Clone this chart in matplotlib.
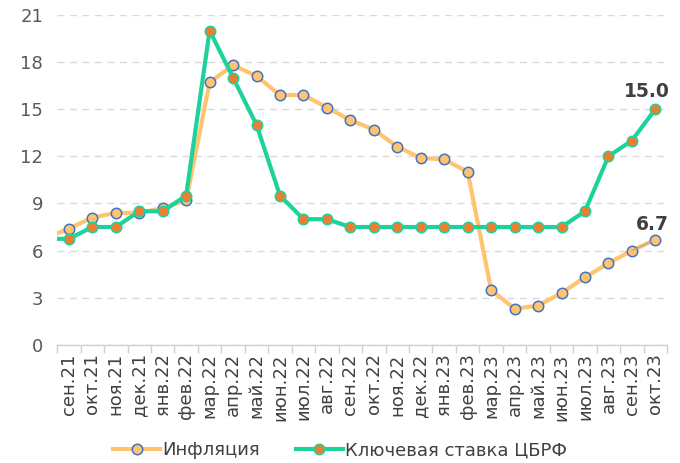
import matplotlib.pyplot as plt
import numpy as np

months = ["сен.21", "окт.21", "ноя.21", "дек.21", "янв.22", "фев.22", "мар.22",
          "апр.22", "май.22", "июн.22", "июл.22", "авг.22", "сен.22", "окт.22",
          "ноя.22", "дек.22", "янв.23", "фев.23", "мар.23", "апр.23", "май.23",
          "июн.23", "июл.23", "авг.23", "сен.23", "окт.23"]

# first value is for авг.21 (only its segment is visible at the left edge)
inflation = [6.8, 7.4, 8.1, 8.4, 8.4, 8.7, 9.2, 16.7, 17.8, 17.1, 15.9, 15.9, 15.1,
             14.3, 13.7, 12.6, 11.9, 11.8, 11.0, 3.5, 2.3, 2.5, 3.3, 4.3, 5.2, 6.0, 6.7]
key_rate = [6.75, 6.75, 7.5, 7.5, 8.5, 8.5, 9.5, 20.0, 17.0, 14.0, 9.5, 8.0, 8.0,
            7.5, 7.5, 7.5, 7.5, 7.5, 7.5, 7.5, 7.5, 7.5, 7.5, 8.5, 12.0, 13.0, 15.0]

x = np.arange(-1, len(months))

fig = plt.figure(figsize=(6.8, 4.63), dpi=100)
ax = fig.add_axes([0.084, 0.255, 0.897, 0.713])

ax.plot(x, inflation, color="#FFC470", lw=3, marker="o", ms=7.5,
        mfc="#FFC470", mec="#4472C4", mew=1.1, label="Инфляция", zorder=3)
ax.plot(x, key_rate, color="#1DD39B", lw=3, marker="o", ms=7.5,
        mfc="#ED7D31", mec="#1DD39B", mew=1.1, label="Ключевая ставка ЦБРФ", zorder=4)

ax.set_xlim(-0.5, len(months) - 0.5)
ax.set_ylim(0, 21)
ax.set_yticks(np.arange(0, 22, 3))
ax.set_xticks(np.arange(len(months)))
ax.set_xticklabels(months, rotation=90)
ax.set_xticks(np.arange(-0.5, len(months)), minor=True)
ax.tick_params(axis="x", which="major", length=0, pad=6, labelsize=13, labelcolor="#404040")
ax.tick_params(axis="x", which="minor", length=6, color="#D0D0D0", width=1)
ax.tick_params(axis="y", length=0, labelsize=13, labelcolor="#595959", pad=10)

ax.grid(axis="y", color="#D9D9D9", ls=(0, (5, 4)), lw=1)
ax.set_axisbelow(True)
for s in ["left", "right", "top"]:
    ax.spines[s].set_visible(False)
ax.spines["bottom"].set_color("#D0D0D0")
ax.spines["bottom"].set_linewidth(1)

ax.annotate(f"{key_rate[-1]:.1f}", (x[-1], key_rate[-1]), xytext=(-6, 6),
            textcoords="offset points", ha="center", va="bottom",
            fontsize=13.5, fontweight="bold", color="#404040")
ax.annotate(f"{inflation[-1]:.1f}", (x[-1], inflation[-1]), xytext=(-2, 4),
            textcoords="offset points", ha="center", va="bottom",
            fontsize=13.5, fontweight="bold", color="#404040")
# short leader line of the 6.7 label
ax.annotate("", (x[-1], inflation[-1]), xytext=(-17, -8), textcoords="offset points",
            arrowprops=dict(arrowstyle="-", color="#A6A6A6", lw=0.8, shrinkA=0, shrinkB=3))

leg = fig.legend(loc="center", bbox_to_anchor=(0.5, 0.028), ncol=2, frameon=False,
                 fontsize=13, handlelength=2.6, columnspacing=2.0, handletextpad=0.1)
for t in leg.get_texts():
    t.set_color("#404040")

fig.savefig("out.png", dpi=100)
